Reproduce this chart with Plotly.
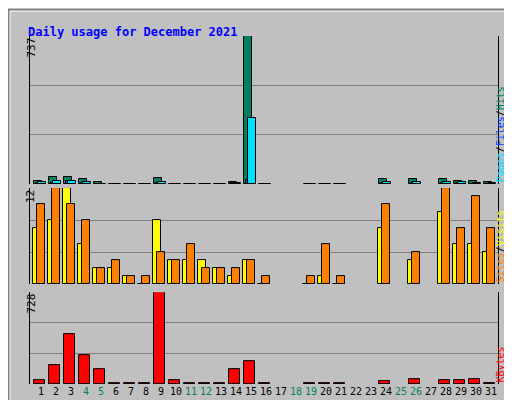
import plotly.graph_objects as go

# Daily values for December 2021 (None = no data that day)
days = list(range(1, 32))
hits = [16, 35, 35, 25, 10, 2, 2, 2, 30, 2, 2, 2, 2, 10, 737, 2, None, None, 2, 2, 2, None, None, 25, None, 25, None, 25, 15, 15, 10]
files = [10, 16, 16, 10, 2, 2, 2, 2, 10, 2, 2, 2, 2, 3, 330, 2, None, None, 2, 2, 2, None, None, 10, None, 10, None, 10, 8, 5, 3]
pages = [5, 5, 16, 3, 2, 2, 2, 2, 3, 2, 2, 2, 2, 3, 20, 2, None, None, 2, 2, 2, None, None, 3, None, 3, None, 3, 3, 2, 2]
visits = [7, 8, 12, 5, 2, 2, 1, 0, 8, 3, 3, 3, 2, 1, 3, 0, None, None, 0, 1, 0, None, None, 7, None, 3, None, 9, 5, 5, 4]
sites = [10, 12, 10, 8, 2, 3, 1, 1, 4, 3, 5, 2, 2, 2, 3, 1, None, None, 1, 5, 1, None, None, 10, None, 4, None, 12, 7, 11, 7]
kbytes = [29, 148, 394, 228, 116, 3, 3, 3, 728, 29, 3, 3, 3, 116, 180, 3, None, None, 3, 3, 3, None, None, 19, None, 37, None, 29, 29, 37, 3]
weekend = [4, 5, 11, 12, 18, 19, 25, 26]

fig = go.Figure()
line = dict(color="black", width=1)

def add(vals, color, offset, width, axis):
    fig.add_trace(go.Bar(x=days, y=vals, offset=offset, width=width, yaxis=axis,
                         marker=dict(color=color, line=line), hoverinfo="y"))

add(hits, "#008060", -0.45, 0.55, "y")
add(pages, "#0040FF", -0.32, 0.55, "y")
add(files, "#00E0FF", -0.19, 0.55, "y")
add(visits, "#FFFF00", -0.53, 0.5, "y2")
add(sites, "#FF8000", -0.27, 0.55, "y2")
add(kbytes, "#FF0000", -0.47, 0.73, "y3")

ticktext = [f"<span style='color:#008060'>{d}</span>" if d in weekend else str(d) for d in days]
mono = "DejaVu Sans Mono"

def yax(dom, top):
    return dict(domain=dom, range=[0, top], tickvals=[top / 3, 2 * top / 3],
                showticklabels=False, ticks="", gridcolor="#808080", gridwidth=1,
                showline=True, mirror=True, linecolor="black", zeroline=False,
                fixedrange=True, automargin=False)

fig.update_layout(
    width=512, height=400,
    margin=dict(l=22, r=22, t=28, b=24, autoexpand=False),
    paper_bgcolor="#C0C0C0", plot_bgcolor="#C0C0C0",
    showlegend=False, barmode="overlay", bargap=0,
    font=dict(family=mono, size=11, color="black"),
    xaxis=dict(range=[0.27, 31.47], tickvals=days, ticktext=ticktext, ticks="",
               tickangle=0, tickfont=dict(size=10), showgrid=False, anchor="y3",
               fixedrange=True, automargin=False),
    yaxis=yax([0.575, 1.0], 737),
    yaxis2=yax([0.287, 0.563], 12),
    yaxis3=yax([0.0, 0.264], 728),
)

annots = [
    dict(x=18, y=15, text="<b>Daily usage for December 2021</b>", xanchor="left",
         font=dict(color="#0000FF", size=12, family=mono)),
    dict(x=14, y=28, text="737", textangle=-90, yanchor="top"),
    dict(x=14, y=180, text="12", textangle=-90, yanchor="top"),
    dict(x=14, y=284, text="728", textangle=-90, yanchor="top"),
    dict(x=499, y=176, textangle=-90, yanchor="bottom", font=dict(size=10),
         text="<span style='color:#00E0FF'>Pages</span>/<span style='color:#0040FF'>Files</span>/<span style='color:#008060'>Hits</span>"),
    dict(x=499, y=276, textangle=-90, yanchor="bottom", font=dict(size=10),
         text="<span style='color:#FF8000'>Sites</span>/<span style='color:#FFFF00'>Visits</span>"),
    dict(x=499, y=376, textangle=-90, yanchor="bottom", font=dict(size=10),
         text="<span style='color:#FF0000'>KBytes</span>"),
]
for a in annots:
    px_x, px_y = a.pop("x"), a.pop("y")
    fig.add_annotation(xref="paper", yref="paper", x=(px_x - 22) / 468, y=(376 - px_y) / 348,
                       showarrow=False, **a)

# outer frame
fig.add_shape(type="rect", xref="paper", yref="paper", x0=-21 / 468, x1=488 / 468,
              y0=-22 / 348, y1=374 / 348, line=dict(color="#808080", width=2))
fig.add_shape(type="rect", xref="paper", yref="paper", x0=-20 / 468, x1=487 / 468,
              y0=-21 / 348, y1=373 / 348, line=dict(color="white", width=1))

fig.write_html("out.html")
